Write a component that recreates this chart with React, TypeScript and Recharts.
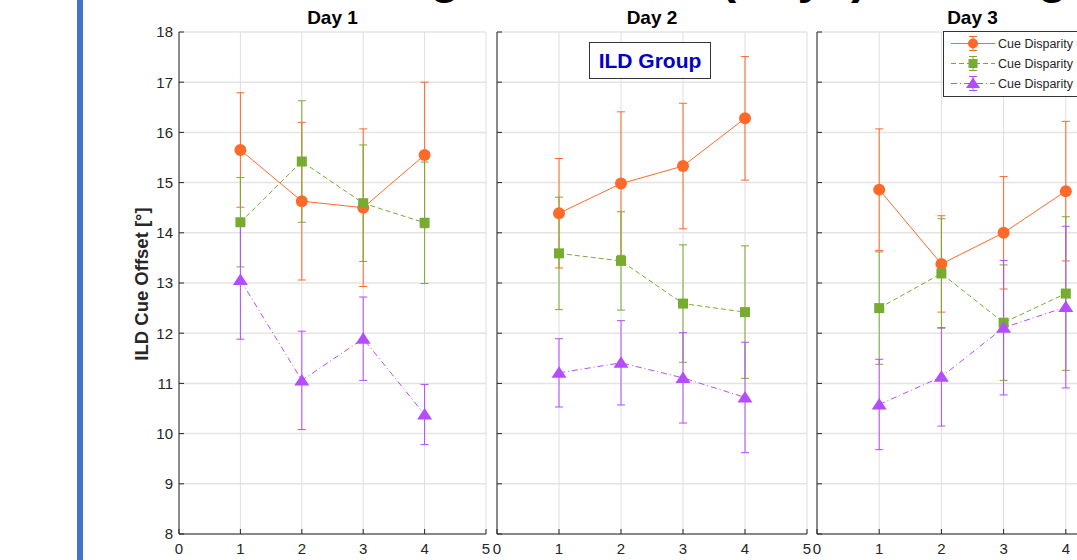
import React from 'react';
import { LineChart, Line, XAxis, YAxis, CartesianGrid, ErrorBar } from 'recharts';

// ---------- data ----------
const dayTitles = ['Day 1', 'Day 2', 'Day 3'];
const sessions = [1, 2, 3, 4];
const xTicks = [0, 1, 2, 3, 4, 5];
const yTicks = [8, 9, 10, 11, 12, 13, 14, 15, 16, 17, 18];
const seriesNames = ['Cue Disparity 0°', 'Cue Disparity 5°', 'Cue Disparity 10°'];
const seriesColors = ['#FF6A2A', '#77AC30', '#B44CFF'];

// mean per day (rows) and session (cols)
const orangeMean = [
  [15.65, 14.63, 14.5, 15.55],
  [14.39, 14.98, 15.33, 16.28],
  [14.86, 13.38, 14.0, 14.83],
];
const orangeErr = [
  [1.14, 1.57, 1.57, 1.45],
  [1.09, 1.43, 1.25, 1.23],
  [1.21, 0.96, 1.12, 1.39],
];
const greenMean = [
  [14.21, 15.42, 14.59, 14.2],
  [13.59, 13.44, 12.59, 12.42],
  [12.5, 13.19, 12.21, 12.79],
];
const greenErr = [
  [0.89, 1.21, 1.16, 1.21],
  [1.12, 0.98, 1.17, 1.32],
  [1.12, 1.09, 1.15, 1.53],
];
const purpleMean = [
  [13.06, 11.06, 11.89, 10.38],
  [11.21, 11.41, 11.11, 10.72],
  [10.58, 11.13, 12.11, 12.52],
];
const purpleErr = [
  [1.18, 0.98, 0.83, 0.6],
  [0.68, 0.84, 0.9, 1.1],
  [0.9, 0.98, 1.34, 1.61],
];

const yLabel = 'ILD Cue Offset [°]';
const groupLabel = 'ILD Group';
const bigTitle = 'Learning Over Time (Days) Training';

// ---------- layout ----------
const FONT = '"Liberation Sans", Arial, Helvetica, sans-serif';
const AXIS = '#262626';
const panels = [
  { left: 99, width: 400, yw: 80, mr: 13 },
  { left: 477, width: 340, yw: 20, mr: 10 },
  { left: 797, width: 340, yw: 20, mr: 9 },
];

const circleDot = (color: string) => (p: any) => (
  <circle key={`c${p.index}`} cx={p.cx} cy={p.cy} r={6} fill={color} />
);
const squareDot = (color: string) => (p: any) => (
  <rect key={`s${p.index}`} x={p.cx - 5} y={p.cy - 5} width={10} height={10} fill={color} />
);
const triDot = (color: string) => (p: any) => (
  <polygon
    key={`t${p.index}`}
    points={`${p.cx},${p.cy - 6.5} ${p.cx - 7.5},${p.cy + 5} ${p.cx + 7.5},${p.cy + 5}`}
    fill={color}
  />
);
const emptyTick = () => <g />;

function Panel({ d }: { d: number }) {
  const cfg = panels[d];
  const data = sessions.map((s, i) => ({
    x: s,
    o: orangeMean[d][i],
    oe: orangeErr[d][i],
    g: greenMean[d][i],
    ge: greenErr[d][i],
    p: purpleMean[d][i],
    pe: purpleErr[d][i],
  }));
  return (
    <div style={{ position: 'absolute', left: cfg.left, top: 0 }}>
      <LineChart
        width={cfg.width}
        height={560}
        data={data}
        margin={{ top: 32, right: cfg.mr, left: 0, bottom: 0 }}
      >
        <CartesianGrid horizontal={true} vertical={false} stroke="#e4e4e4" strokeWidth={1.5} />
        <CartesianGrid horizontal={false} vertical={true} stroke="#dedede" strokeWidth={1} />
        <XAxis
          type="number"
          dataKey="x"
          domain={[0, 5]}
          ticks={xTicks}
          interval={0}
          height={26}
          tickSize={-5}
          tickMargin={14}
          stroke={AXIS}
          tick={{ fill: AXIS, fontSize: 15, fontFamily: FONT }}
        />
        <YAxis
          type="number"
          domain={[8, 18]}
          ticks={yTicks}
          interval={0}
          width={cfg.yw}
          tickSize={-5}
          tickMargin={11}
          stroke={AXIS}
          tick={d === 0 ? { fill: AXIS, fontSize: 15, fontFamily: FONT } : emptyTick}
        />
        <Line
          dataKey="o"
          stroke={seriesColors[0]}
          strokeWidth={1}
          dot={circleDot(seriesColors[0])}
          activeDot={false}
          isAnimationActive={false}
        >
          <ErrorBar dataKey="oe" width={4} stroke={seriesColors[0]} strokeWidth={1} direction="y" isAnimationActive={false} />
        </Line>
        <Line
          dataKey="g"
          stroke={seriesColors[1]}
          strokeWidth={1}
          strokeDasharray="5 3"
          dot={squareDot(seriesColors[1])}
          activeDot={false}
          isAnimationActive={false}
        >
          <ErrorBar dataKey="ge" width={4} stroke={seriesColors[1]} strokeWidth={1} direction="y" isAnimationActive={false} />
        </Line>
        <Line
          dataKey="p"
          stroke={seriesColors[2]}
          strokeWidth={1}
          strokeDasharray="6 3 1 3"
          dot={triDot(seriesColors[2])}
          activeDot={false}
          isAnimationActive={false}
        >
          <ErrorBar dataKey="pe" width={4} stroke={seriesColors[2]} strokeWidth={1} direction="y" isAnimationActive={false} />
        </Line>
      </LineChart>
    </div>
  );
}

const titleCenters = [332.5, 652, 972.5];
const legendRows = [43.5, 63.5, 83.5];
const legendDash = [undefined, '5 3', '6 3 1 3'];

function LegendMarker({ i, cx, cy }: { i: number; cx: number; cy: number }) {
  const c = seriesColors[i];
  if (i === 0) return <circle cx={cx} cy={cy} r={5} fill={c} />;
  if (i === 1) return <rect x={cx - 4.5} y={cy - 4.5} width={9} height={9} fill={c} />;
  return <polygon points={`${cx},${cy - 6} ${cx - 7},${cy + 4.5} ${cx + 7},${cy + 4.5}`} fill={c} />;
}

export default function App() {
  return (
    <div
      style={{
        position: 'fixed',
        left: 0,
        top: 0,
        width: 1077,
        height: 560,
        overflow: 'hidden',
        background: '#fff',
        fontFamily: FONT,
      }}
    >
      {[0, 1, 2].map((d) => (
        <Panel key={d} d={d} />
      ))}
      <svg
        width={1077}
        height={560}
        style={{ position: 'absolute', left: 0, top: 0, pointerEvents: 'none' }}
      >
        <rect x={77} y={0} width={6} height={560} fill="#4472C4" />
        <text x={257} y={-7} fontSize={48} fontWeight="bold" fill="#000" fontFamily={FONT}>
          {bigTitle}
        </text>
        {dayTitles.map((t, i) => (
          <text
            key={t}
            x={titleCenters[i]}
            y={24}
            textAnchor="middle"
            fontSize={19}
            fontWeight="bold"
            fill="#000"
            fontFamily={FONT}
          >
            {t}
          </text>
        ))}
        <text
          transform="translate(148,284) rotate(-90)"
          textAnchor="middle"
          fontSize={18.5}
          fontWeight="bold"
          fill={AXIS}
          fontFamily={FONT}
        >
          {yLabel}
        </text>
        <rect x={589.5} y={42.5} width={121} height={36} fill="#fff" stroke="#333" strokeWidth={1} />
        <text x={650} y={68} textAnchor="middle" fontSize={21} fontWeight="bold" fill="#0000C8" fontFamily={FONT}>
          {groupLabel}
        </text>
        <rect x={943.5} y={31.5} width={200} height={65} fill="#fff" stroke="#333" strokeWidth={1} />
        {seriesNames.map((n, i) => {
          const cy = legendRows[i];
          const c = seriesColors[i];
          return (
            <g key={n}>
              <line x1={951} x2={995} y1={cy} y2={cy} stroke={c} strokeWidth={1} strokeDasharray={legendDash[i]} />
              <line x1={973} x2={973} y1={cy - 7} y2={cy + 7} stroke={c} strokeWidth={1} />
              <line x1={969} x2={977} y1={cy - 7} y2={cy - 7} stroke={c} strokeWidth={1} />
              <line x1={969} x2={977} y1={cy + 7} y2={cy + 7} stroke={c} strokeWidth={1} />
              <LegendMarker i={i} cx={973} cy={cy} />
              <text x={998} y={cy + 4.5} fontSize={12.5} fill={AXIS} fontFamily={FONT}>
                {n}
              </text>
            </g>
          );
        })}
      </svg>
    </div>
  );
}
